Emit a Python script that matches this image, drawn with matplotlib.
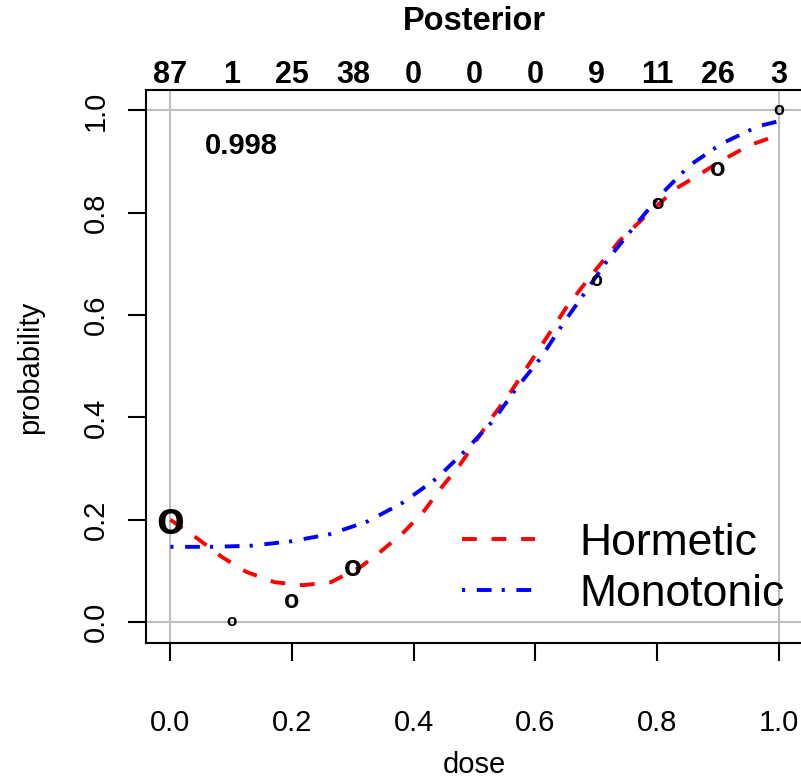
import matplotlib
matplotlib.use("Agg")
import matplotlib.pyplot as plt
import matplotlib.transforms as mtransforms

plt.rcParams['font.family'] = ['Liberation Sans', 'DejaVu Sans']

# observed data
dose = [0.0, 0.1, 0.2, 0.3, 0.4, 0.5, 0.6, 0.7, 0.8, 0.9, 1.0]
counts = [87, 1, 25, 38, 0, 0, 0, 9, 11, 26, 3]
obs_prob = [0.195, 0.0, 0.04, 0.105, None, None, None, 0.667, 0.818, 0.885, 1.0]

# fitted curves
horm_dose = [0.0, 0.046, 0.085, 0.125, 0.171, 0.218, 0.264, 0.312, 0.345, 0.384,
             0.417, 0.445, 0.476, 0.525, 0.558, 0.608, 0.651, 0.692, 0.739, 0.788,
             0.832, 0.870, 0.903, 0.952, 1.0]
horm_prob = [0.200, 0.162, 0.127, 0.098, 0.078, 0.072, 0.078, 0.107, 0.137, 0.176,
             0.217, 0.262, 0.307, 0.394, 0.447, 0.537, 0.615, 0.678, 0.746, 0.801,
             0.848, 0.875, 0.900, 0.932, 0.952]
mono_dose = [0.0, 0.066, 0.131, 0.2, 0.263, 0.325, 0.383, 0.438, 0.484, 0.531,
             0.569, 0.61, 0.646, 0.684, 0.722, 0.764, 0.805, 0.854, 0.906, 0.966, 1.0]
mono_prob = [0.147, 0.147, 0.149, 0.158, 0.172, 0.197, 0.234, 0.281, 0.334, 0.394,
             0.457, 0.518, 0.584, 0.648, 0.713, 0.775, 0.834, 0.893, 0.935, 0.969, 0.979]

posterior_value = "0.998"
xticks = [0.0, 0.2, 0.4, 0.6, 0.8, 1.0]
yticks = [0.0, 0.2, 0.4, 0.6, 0.8, 1.0]

fig = plt.figure(figsize=(8.01, 7.83), dpi=100)
ax = fig.add_axes([146/801, 1-642.5/783, 657/801, 552.5/783])
ax.set_xlim(-0.04, 1.04)
ax.set_ylim(-0.04, 1.04)

grid_c = '#BEBEBE'
ax.axvline(0, color=grid_c, lw=1.5, zorder=1)
ax.axvline(1, color=grid_c, lw=1.5, zorder=1)
ax.axhline(0, color=grid_c, lw=1.5, zorder=1)
ax.axhline(1, color=grid_c, lw=1.5, zorder=1)

ax.plot(horm_dose, horm_prob, color='#FF0000', lw=2.8, dashes=(3.8, 3.8),
        label='Hormetic', zorder=3)
ax.plot(mono_dose, mono_prob, color='#0000FF', lw=2.8, dashes=(0.8, 3.0, 3.8, 2.6),
        label='Monotonic', zorder=3)

for d, n, p in zip(dose, counts, obs_prob):
    if p is None or n == 0:
        continue
    fs = 12 + 0.24 * n
    tr = mtransforms.offset_copy(ax.transData, fig=fig, x=0, y=-0.26 * fs, units='points')
    ax.text(d, p, 'o', fontsize=fs, fontweight='bold', ha='center', va='baseline',
            transform=tr, zorder=4)

# counts along top
top_tr = mtransforms.blended_transform_factory(ax.transData, ax.transAxes)
for d, n in zip(dose, counts):
    ax.text(d, 1.0127, str(n), transform=top_tr, ha='center', va='baseline',
            fontsize=22, fontweight='bold', clip_on=False)

ax.text(0.5, 1.1095, 'Posterior', transform=ax.transAxes, ha='center', va='baseline',
        fontsize=23.5, fontweight='bold')

ax.text(0.117, 0.914, posterior_value, ha='center', va='baseline', fontsize=21,
        fontweight='bold')

ax.set_xticks(xticks)
ax.set_xticklabels([f'{v:.1f}' for v in xticks])
ax.set_yticks(yticks)
ax.set_yticklabels([f'{v:.1f}' for v in yticks], rotation=90, va='center')
ax.tick_params(axis='both', labelsize=21, length=13, width=1.5, direction='out')
ax.tick_params(axis='x', pad=35)
ax.tick_params(axis='y', pad=13)

for s in ax.spines.values():
    s.set_linewidth(1.5)

fig.text(474/801, 1-773/783, 'dose', ha='center', va='baseline', fontsize=21)
fig.text(30/801, 1-367/783, 'probability', ha='center', va='center', rotation=90, fontsize=21)

leg = ax.legend(loc='upper left', bbox_to_anchor=(462/801, 1-523/783),
                bbox_transform=fig.transFigure, frameon=False, fontsize=32,
                handlelength=1.65, handletextpad=1.0, labelspacing=0.22,
                borderpad=0, borderaxespad=0)

fig.savefig('out.png', dpi=100)
